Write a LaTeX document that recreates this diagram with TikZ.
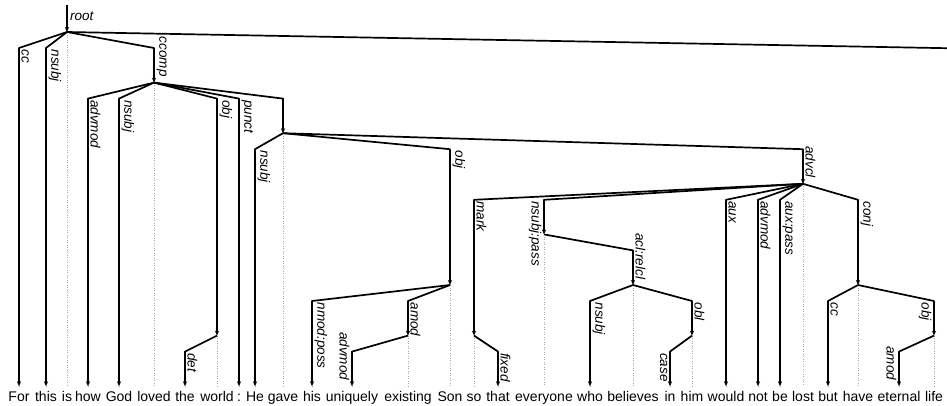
\documentclass[tikz,border=0pt]{standalone}
\usepackage{fontspec}
\setmainfont{Liberation Sans}
\usetikzlibrary{arrows.meta,calc}

\tikzset{
  arc/.style={line width=1.7pt, line join=round, -{Stealth[length=5pt,width=4.2pt]}},
  guide/.style={gray!70, dotted, line width=0.5pt},
  word/.style={anchor=base, inner sep=0pt, font=\fontsize{14}{17}\selectfont},
  lbl/.style={rotate=-90, inner sep=0pt, outer xsep=1.5pt, outer ysep=2.5pt,
    font=\fontsize{13.5}{16}\selectfont\itshape},
  lblr/.style={lbl, anchor=south west},
  lbll/.style={lbl, anchor=north west},
  lblre/.style={lbl, anchor=south east, outer xsep=6pt},
  lblle/.style={lbl, anchor=north east, outer xsep=6pt},
}

% head, dependent, relation, label style; optional b = at the bend, w = at the end
\newcommand{\deprel}[5][b]{%
  \draw[arc] (w#2) -- ($(w#3 |- w#2)+(0,16)$) coordinate (b#3) -- (w#3);
  \node[#5] (l#3) at (#1#3) {#4};
}

\begin{document}
\begin{tikzpicture}[x=1pt,y=-1pt]
  \useasboundingbox (0,0) rectangle (947,405);
  % words: index / x / depth / text
  \foreach \i/\x/\d/\w in {1/19/7/For, 2/46/7/this, 3/67/0/is, 4/88/7/how,
      5/119/7/God, 6/154/1/loved, 7/185/7/the, 8/217/6/world, 9/239/7/{:},
      10/255/7/He, 11/283/2/gave, 12/312/7/his, 13/352/7/uniquely,
      14/408/6/existing, 15/450/5/Son, 16/474/6/so, 17/498/7/that,
      18/544/4/everyone, 19/590/7/who, 20/633/5/believes, 21/670/7/in,
      22/692/6/him, 23/726/7/would, 24/758/7/not, 25/780/7/be, 26/803/3/lost,
      27/828/7/but, 28/858/5/have, 29/899/7/eternal, 30/934/6/life} {
    \coordinate (w\i) at (\x,{32+50.6*\d});
    \draw[guide] (w\i) -- (\x,386);
    \node[word] (t\i) at (\x,401) {\w};
  }

  % root
  \coordinate (rootin) at (67,5);
  \draw[arc] (rootin) -- (w3);
  \node[font=\fontsize{13.5}{16}\selectfont\itshape, inner sep=0pt, anchor=base west] (lroot) at (70,20) {root};
  \coordinate (offpage) at (947,48.2);
  \draw[line width=1.7pt] (w3) -- (offpage);

  \deprel{3}{1}{cc}{lblr}
  \deprel{3}{2}{nsubj}{lblr}
  \deprel[w]{3}{6}{ccomp}{lblre}
  \deprel{6}{4}{advmod}{lblr}
  \deprel{6}{5}{nsubj}{lblr}
  \deprel{6}{8}{obj}{lblr}
  \deprel{6}{9}{punct}{lblr}
  \draw[arc] (w6) -- ($(w11 |- w6)+(0,16)$) -- (w11);
  \deprel{8}{7}{det}{lblr}
  \deprel{11}{10}{nsubj}{lblr}
  \deprel{11}{15}{obj}{lblr}
  \deprel[w]{11}{26}{advcl}{lblre}
  \deprel{15}{12}{nmod:poss}{lblr}
  \deprel{15}{14}{amod}{lblr}
  \deprel[w]{14}{13}{advmod}{lblle}
  \deprel{26}{16}{mark}{lblr}
  \deprel{26}{18}{nsubj:pass}{lbll}
  \deprel{26}{23}{aux}{lblr}
  \deprel{26}{24}{advmod}{lblr}
  \deprel{26}{25}{aux:pass}{lblr}
  \deprel{26}{28}{conj}{lblr}
  \deprel{16}{17}{fixed}{lblr}
  \deprel[w]{18}{20}{acl:relcl}{lblre}
  \deprel{20}{19}{nsubj}{lblr}
  \deprel{20}{22}{obl}{lblr}
  \deprel{22}{21}{case}{lbll}
  \deprel{28}{27}{cc}{lblr}
  \deprel{28}{30}{obj}{lbll}
  \deprel[w]{30}{29}{amod}{lblle}
\end{tikzpicture}
\end{document}
